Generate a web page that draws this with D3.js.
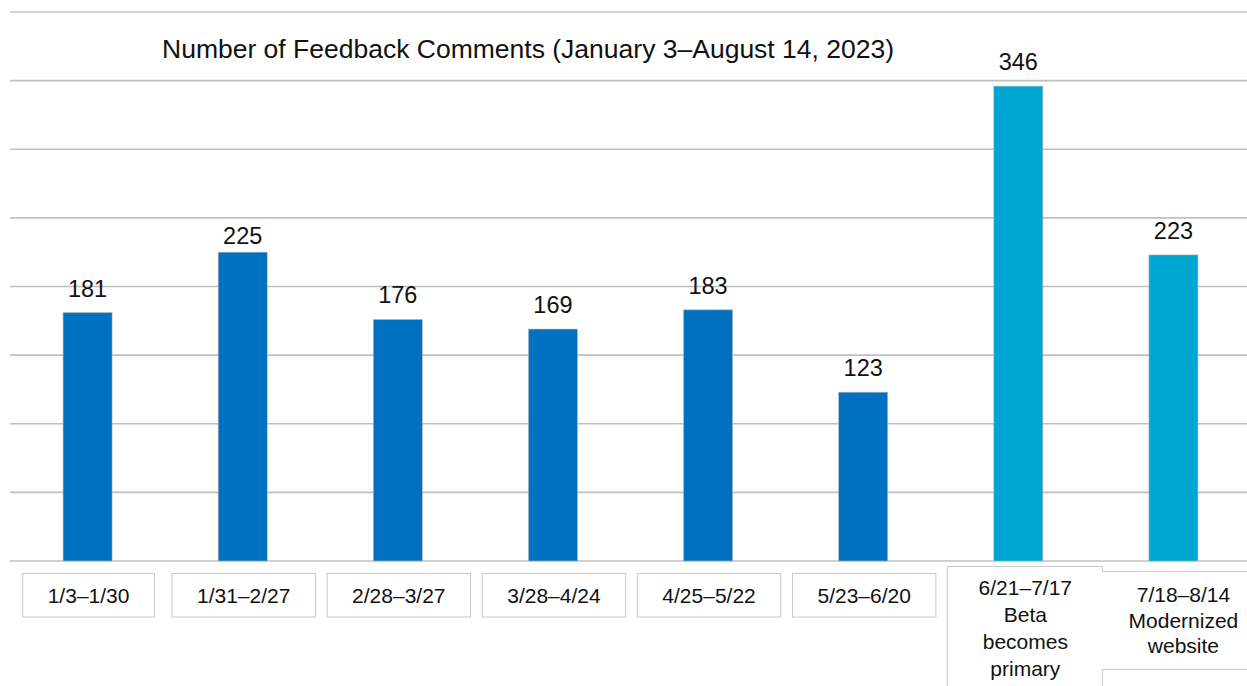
<!DOCTYPE html>
<html>
<head>
<meta charset="utf-8">
<script src="https://cdn.jsdelivr.net/npm/d3@7"></script>
<style>
  html, body { margin: 0; padding: 0; background: #fff; overflow: hidden; }
  svg { display: block; font-family: "Liberation Sans", Arial, Helvetica, sans-serif; }
</style>
</head>
<body>
<svg id="chart" width="1247" height="686"></svg>
<script>
// ---- Data ----
const title = "Number of Feedback Comments (January 3\u2013August 14, 2023)";
const categories = ["1/3\u20131/30", "1/31\u20132/27", "2/28\u20133/27", "3/28\u20134/24",
                    "4/25\u20135/22", "5/23\u20136/20", "6/21\u20137/17", "7/18\u20138/14"];
const notes = ["", "", "", "", "", "", "Beta|becomes|primary", "Modernized|website"];
const values = [181, 225, 176, 169, 183, 123, 346, 223];
const phases = ["old", "old", "old", "old", "old", "old", "new", "new"];
const yTicks = [0, 50, 100, 150, 200, 250, 300, 350, 400];

// ---- Layout ----
const svg = d3.select("#chart");
const plotL = 10, plotR = 1251, plotT = 12, plotB = 561;

const x = d3.scaleBand().domain(categories).range([plotL, plotR])
  .paddingInner(0.684).paddingOuter(0.342);
const y = d3.scaleLinear().domain([0, 400]).range([plotB, plotT]);
const color = d3.scaleOrdinal().domain(["old", "new"]).range(["#0070C0", "#00A6D2"]);

// gridlines
svg.append("g").selectAll("line").data(yTicks).join("line")
  .attr("x1", plotL).attr("x2", 1260)
  .attr("y1", d => y(d)).attr("y2", d => y(d))
  .attr("stroke", "#c0c0c0").attr("stroke-width", 1.6);

// title
svg.append("text").attr("x", 162).attr("y", 58)
  .attr("font-size", 26.5).attr("fill", "#111").text(title);

// bars
svg.append("g").selectAll("rect").data(values).join("rect")
  .attr("x", (d, i) => x(categories[i]))
  .attr("width", x.bandwidth())
  .attr("y", d => y(d))
  .attr("height", d => y(0) - y(d))
  .attr("fill", (d, i) => color(phases[i]))
  .attr("stroke", "#b8b8b8").attr("stroke-width", 0.6);

// value labels (the second one sits closer to its bar, as in the original)
svg.append("g").selectAll("text").data(values).join("text")
  .attr("x", (d, i) => x(categories[i]) + x.bandwidth() / 2)
  .attr("y", (d, i) => y(d) - (i === 1 ? 8.5 : 16))
  .attr("text-anchor", "middle")
  .attr("font-size", 23.5).attr("fill", "#111")
  .text(d => d);

// category label boxes
const gCat = svg.append("g");
categories.forEach((c, i) => {
  const cx = x(c) + x.bandwidth() / 2;
  if (!notes[i]) {
    const t = gCat.append("text").attr("x", cx + 1).attr("y", 603)
      .attr("text-anchor", "middle").attr("font-size", 21).attr("fill", "#111").text(c);
    const w = t.node().getComputedTextLength() + 50;
    gCat.insert("rect", "text").attr("x", cx - w / 2 + 1).attr("y", 573.5)
      .attr("width", w).attr("height", 43.5)
      .attr("fill", "#fff").attr("stroke", "#c8c8c8").attr("stroke-width", 1);
  }
});

// multi-line boxes (last two)
const i7 = 6, i8 = 7;
const c7 = x(categories[i7]) + x.bandwidth() / 2 + 7;
const c8 = x(categories[i8]) + x.bandwidth() / 2 + 10;
const s = x.step();
gCat.append("path")
  .attr("d", `M${c7 - s/2 - 0.5},700 V566.5 H${c7 + s/2 - 0.5} V571.5`)
  .attr("fill", "none").attr("stroke", "#c8c8c8").attr("stroke-width", 1);
gCat.append("path")
  .attr("d", `M${c7 + s/2 - 0.5},571.5 H1260 M${c7 + s/2 - 0.5},669.5 H1260 M${c7 + s/2 - 0.5},669.5 V700`)
  .attr("fill", "none").attr("stroke", "#c8c8c8").attr("stroke-width", 1);

function multiLine(cx, y0, dy, lines) {
  lines.forEach((ln, k) => {
    gCat.append("text").attr("x", cx).attr("y", y0 + k * dy)
      .attr("text-anchor", "middle").attr("font-size", 21).attr("fill", "#111").text(ln);
  });
}
multiLine(c7, 595, 27, [categories[i7]].concat(notes[i7].split("|")));
multiLine(c8, 602, 25.5, [categories[i8]].concat(notes[i8].split("|")));
</script>
</body>
</html>
